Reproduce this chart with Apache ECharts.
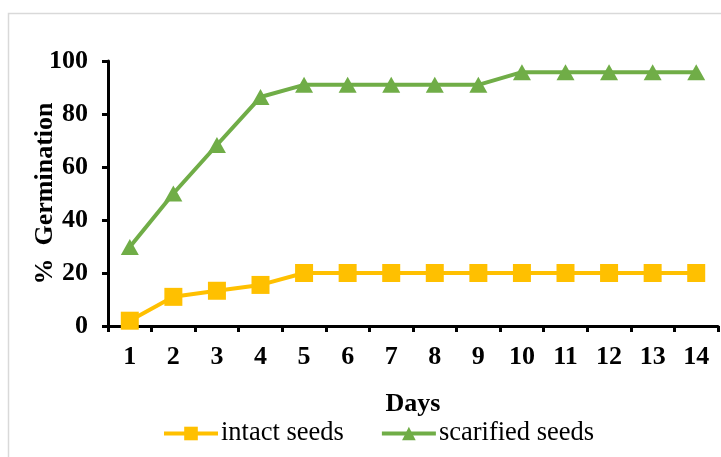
<!DOCTYPE html>
<html><head><meta charset="utf-8">
<script src="https://cdn.jsdelivr.net/npm/echarts@6/dist/echarts.min.js"></script>
<style>html,body{margin:0;padding:0;background:#fff}#c{width:721px;height:457px}</style>
</head><body><div id="c"></div>
<script>
const days = ['1','2','3','4','5','6','7','8','9','10','11','12','13','14'];
const intactSeeds = [2, 11, 13.3, 15.5, 20, 20, 20, 20, 20, 20, 20, 20, 20, 20];
const scarifiedSeeds = [29.8, 50, 68.3, 86.4, 91, 91, 91, 91, 91, 95.8, 95.8, 95.8, 95.8, 95.8];
const yTicks = [0, 20, 40, 60, 80, 100];

const chart = echarts.init(document.getElementById('c'));
const font = 'Liberation Serif, Times New Roman, serif';
chart.setOption({
  animation: false,
  backgroundColor: '#fff',
  graphic: [{type:'rect', shape:{x:8.5,y:13.5,width:800,height:500}, style:{fill:'none',stroke:'#d9d9d9',lineWidth:1.5}, z:-1}],
  grid: {left:108, right:3, top:61, bottom:131, containLabel:false},
  legend: {
    top: 420, left: 162, padding: 0, itemWidth: 54, itemHeight: 17, itemGap: 36,
    lineStyle: {width: 4},
    textStyle: {fontFamily: font, fontSize: 26.5, color:'#000', padding:[0,0,0,-2]},
    data: ['intact seeds','scarified seeds']
  },
  xAxis: {
    type:'category', data: days, boundaryGap: true,
    name:'Days', nameLocation:'middle', nameGap: 65, nameMoveOverlap: false,
    nameTextStyle:{fontFamily:font, fontSize:26, fontWeight:'bold', color:'#000'},
    axisLine:{lineStyle:{color:'#000', width:3}},
    axisTick:{show:true, alignWithLabel:false, length:6, lineStyle:{color:'#000', width:3}},
    axisLabel:{fontFamily:font, fontSize:26, fontWeight:'bold', color:'#000', margin:18, interval:0},
    splitLine:{show:false}
  },
  yAxis: {
    type:'value', min: yTicks[0], max: yTicks[yTicks.length-1], interval: 20,
    name:'%  Germination', nameLocation:'middle', nameGap: 50, nameRotate: 90, nameMoveOverlap: false,
    nameTextStyle:{fontFamily:font, fontSize:26, fontWeight:'bold', color:'#000'},
    axisLine:{show:true, lineStyle:{color:'#000', width:3}},
    axisTick:{show:true, length:6, lineStyle:{color:'#000', width:3}},
    axisLabel:{fontFamily:font, fontSize:26, fontWeight:'bold', color:'#000', margin:20},
    splitLine:{show:false}
  },
  series: [
    {name:'intact seeds', type:'line', data: intactSeeds, symbol:'rect', symbolSize:18,
     itemStyle:{color:'#ffc000'}, lineStyle:{color:'#ffc000', width:4}},
    {name:'scarified seeds', type:'line', data: scarifiedSeeds, symbol:'triangle', symbolSize:[18,16],
     itemStyle:{color:'#70ad47'}, lineStyle:{color:'#70ad47', width:4}}
  ]
});
</script></body></html>
